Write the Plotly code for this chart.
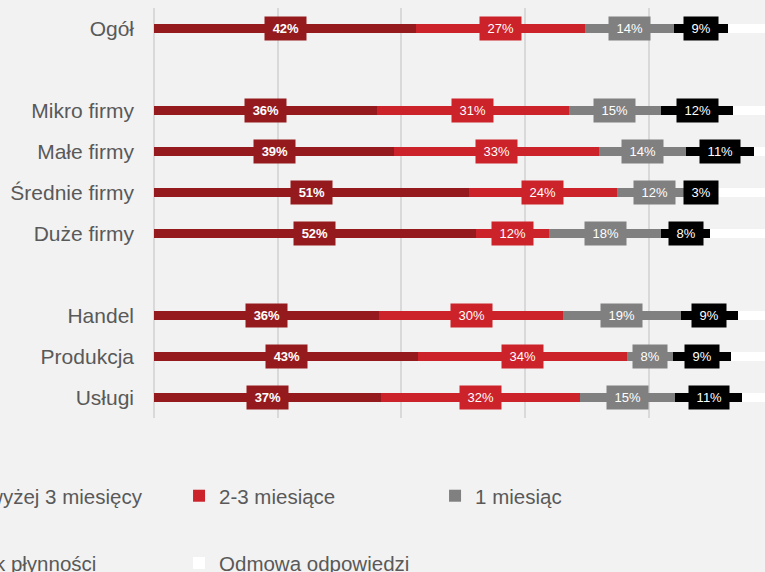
import plotly.graph_objects as go

# kategorie (puste pozycje = odstepy miedzy grupami)
kategorie = ["Ogół", " ", "Mikro firmy", "Małe firmy", "Średnie firmy", "Duże firmy",
             "  ", "Handel", "Produkcja", "Usługi"]

powyzej_3 = [42.4, None, 36.0, 38.8, 50.9, 52.0, None, 36.4, 42.7, 36.7]
miesiace_2_3 = [27.3, None, 31.0, 33.1, 23.9, 11.9, None, 29.7, 33.7, 32.2]
miesiac_1 = [14.4, None, 15.0, 14.1, 12.1, 18.1, None, 19.0, 7.5, 15.3]
brak_plynnosci = [8.7, None, 11.6, 10.9, 3.0, 7.9, None, 9.3, 9.3, 10.9]
odmowa = [7.2, None, 6.4, 3.1, 10.1, 10.1, None, 5.6, 6.8, 4.9]

serie = [
    ("Powyżej 3 miesięcy", powyzej_3, "#951a1d", True, "legend"),
    ("2-3 miesiące", miesiace_2_3, "#cc2229", False, "legend"),
    ("1 miesiąc", miesiac_1, "#808080", False, "legend"),
    ("Brak płynności", brak_plynnosci, "#000000", False, "legend2"),
    ("Odmowa odpowiedzi", odmowa, "#ffffff", None, "legend2"),
]

FONT = "Arial, Liberation Sans, sans-serif"

fig = go.Figure()
annotations = []
start = [0.0] * len(kategorie)

for nazwa, wartosci, kolor, pogrubienie, legenda in serie:
    fig.add_trace(go.Bar(
        y=kategorie, x=wartosci, name=nazwa, orientation="h",
        marker=dict(color=kolor, line=dict(width=0)),
        width=0.2, legend=legenda, hoverinfo="skip",
    ))
    for i, v in enumerate(wartosci):
        if v is None:
            continue
        if pogrubienie is not None:
            tekst = f"{v:.0f}%"
            if pogrubienie:
                tekst = "<b>" + tekst + "</b>"
            annotations.append(dict(
                x=start[i] + v / 2, y=kategorie[i], xref="x", yref="y",
                text="\u00a0" + tekst + "\u00a0", showarrow=False,
                bgcolor=kolor, borderpad=4,
                font=dict(family=FONT, size=13, color="white"),
            ))
        start[i] += v

fig.update_layout(
    barmode="stack",
    width=765, height=572,
    margin=dict(l=154, r=0, t=8, b=154, autoexpand=False),
    paper_bgcolor="#f2f2f2", plot_bgcolor="#f2f2f2",
    font=dict(family=FONT, color="#595959"),
    annotations=annotations,
    showlegend=True,
    legend=dict(orientation="h", x=-0.378, xanchor="left", y=-0.19, yanchor="middle",
                entrywidth=211, bgcolor="rgba(0,0,0,0)",
                font=dict(size=20.5, color="#595959"), traceorder="normal"),
    legend2=dict(orientation="h", x=-0.378, xanchor="left", y=-0.354, yanchor="middle",
                 entrywidth=211, bgcolor="rgba(0,0,0,0)",
                 font=dict(size=20.5, color="#595959"), traceorder="normal"),
)

fig.update_xaxes(range=[0, 98.75], dtick=20, showgrid=True, gridcolor="#d9d9d9", gridwidth=2,
                 zeroline=True, zerolinecolor="#d9d9d9", zerolinewidth=2,
                 showticklabels=False, fixedrange=True)
fig.update_yaxes(categoryorder="array", categoryarray=kategorie, autorange="reversed",
                 showgrid=False, ticks="", ticklabelstandoff=19,
                 tickfont=dict(size=21, color="#595959"), fixedrange=True)

# bez domyslnego marginesu strony, zeby wykres zaczynal sie w rogu okna
fig.write_html("out.html", config={"displayModeBar": False},
               post_script="document.body.style.margin='0';")
